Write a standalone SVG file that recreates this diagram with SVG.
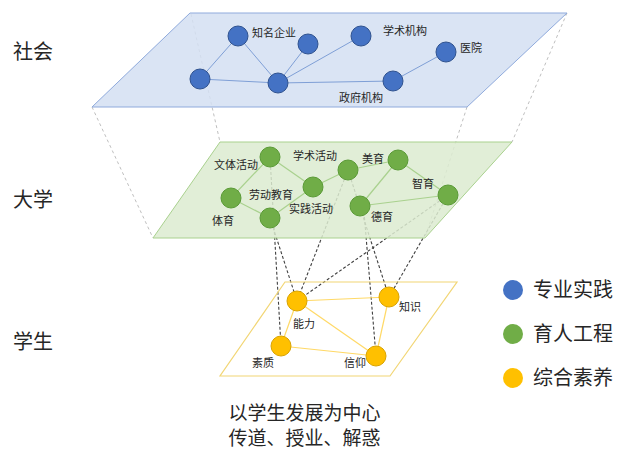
<svg xmlns="http://www.w3.org/2000/svg" width="621" height="450" viewBox="0 0 621 450">
<style>
text{font-family:"Noto Sans CJK SC","Noto Sans",sans-serif;fill:#262626}
.lbl{font-size:11px}
.big{font-size:20px}
.cap{font-size:19px}
.guide{stroke:#BFBFBF;stroke-width:1;stroke-dasharray:3,3;fill:none}
.link{stroke:#404040;stroke-width:1.1;stroke-dasharray:3,2;fill:none}
.eb{stroke:#7F9FD6;stroke-width:1}
.eg{stroke:#A9D18E;stroke-width:1.2}
.ey{stroke:#FFD966;stroke-width:1.2}
.nb{fill:#4472C4;stroke:#2F528F;stroke-width:1}
.ng{fill:#70AD47;stroke:#5A9A36;stroke-width:1}
.ny{fill:#FFC000;stroke:#D9A300;stroke-width:1}
</style>
<rect width="621" height="450" fill="#FFFFFF"/>
<g id="connectors">
<g id="plane-guides">
<line class="guide" x1="92" y1="107" x2="153" y2="238"/>
<line class="guide" x1="191" y1="14" x2="220" y2="142"/>
<line class="guide" x1="567" y1="13" x2="512" y2="142"/>
<line class="guide" x1="467" y1="107" x2="425" y2="238"/>
</g>
<g id="level-links">
<line class="link" x1="270" y1="157" x2="281" y2="346"/>
<line class="link" x1="270" y1="218" x2="297" y2="301"/>
<line class="link" x1="348" y1="170" x2="297" y2="301"/>
<line class="link" x1="448" y1="195" x2="297" y2="301"/>
<line class="link" x1="448" y1="195" x2="389" y2="297"/>
<line class="link" x1="348" y1="170" x2="389" y2="297"/>
<line class="link" x1="364" y1="212" x2="376" y2="356"/>
</g>
</g>
<g id="plane-society">
<polygon points="190,13 567,13 467,107 92,107" fill="#D3DFF2" fill-opacity="0.85" stroke="#8FAADC" stroke-width="1"/>
</g>
<g id="plane-university">
<polygon points="220,142 512,142 425,238 153,238" fill="#DCEBD0" fill-opacity="0.85" stroke="#A9D18E" stroke-width="1"/>
</g>
<g id="plane-student">
<polygon points="285,282 457,282 390,376 220,376" fill="none" stroke="#F2D675" stroke-width="1.2"/>
</g>
<g id="edges">
<line class="eb" x1="200" y1="79" x2="238" y2="36"/>
<line class="eb" x1="200" y1="79" x2="278" y2="83"/>
<line class="eb" x1="238" y1="36" x2="278" y2="83"/>
<line class="eb" x1="278" y1="83" x2="308" y2="44"/>
<line class="eb" x1="278" y1="83" x2="361" y2="36"/>
<line class="eb" x1="278" y1="83" x2="393" y2="81"/>
<line class="eb" x1="393" y1="81" x2="446" y2="52"/>
<line class="eg" x1="270" y1="157" x2="231" y2="198"/>
<line class="eg" x1="270" y1="157" x2="313" y2="187"/>
<line class="eg" x1="231" y1="198" x2="270" y2="218"/>
<line class="eg" x1="270" y1="218" x2="313" y2="187"/>
<line class="eg" x1="313" y1="187" x2="348" y2="170"/>
<line class="eg" x1="348" y1="170" x2="398" y2="160"/>
<line class="eg" x1="398" y1="160" x2="360" y2="206"/>
<line class="eg" x1="398" y1="160" x2="448" y2="195"/>
<line class="eg" x1="360" y1="206" x2="448" y2="195"/>
<line class="ey" x1="297" y1="301" x2="389" y2="297"/>
<line class="ey" x1="297" y1="301" x2="281" y2="346"/>
<line class="ey" x1="297" y1="301" x2="376" y2="356"/>
<line class="ey" x1="281" y1="346" x2="376" y2="356"/>
<line class="ey" x1="389" y1="297" x2="376" y2="356"/>
</g>
<g id="node-s1"><circle class="nb" cx="200" cy="79" r="10"/></g>
<g id="node-s2"><circle class="nb" cx="238" cy="36" r="10"/><text class="lbl" x="252" y="37">知名企业</text></g>
<g id="node-s3"><circle class="nb" cx="308" cy="44" r="10"/></g>
<g id="node-s4"><circle class="nb" cx="361" cy="36" r="10"/><text class="lbl" x="383" y="35">学术机构</text></g>
<g id="node-s5"><circle class="nb" cx="278" cy="83" r="10"/></g>
<g id="node-s6"><circle class="nb" cx="393" cy="81" r="10"/><text class="lbl" x="339" y="102">政府机构</text></g>
<g id="node-s7"><circle class="nb" cx="446" cy="52" r="10"/><text class="lbl" x="460" y="52">医院</text></g>
<g id="node-u1"><circle class="ng" cx="270" cy="157" r="10"/><text class="lbl" x="214" y="169">文体活动</text></g>
<g id="node-u2"><circle class="ng" cx="231" cy="198" r="10"/><text class="lbl" x="212" y="225">体育</text></g>
<g id="node-u3"><circle class="ng" cx="270" cy="218" r="10"/><text class="lbl" x="249" y="199">劳动教育</text></g>
<g id="node-u4"><circle class="ng" cx="313" cy="187" r="10"/><text class="lbl" x="293" y="160">学术活动</text><text class="lbl" x="289" y="213">实践活动</text></g>
<g id="node-u5"><circle class="ng" cx="348" cy="170" r="10"/><text class="lbl" x="362" y="163">美育</text></g>
<g id="node-u6"><circle class="ng" cx="398" cy="160" r="10"/><text class="lbl" x="412" y="188">智育</text></g>
<g id="node-u7"><circle class="ng" cx="360" cy="206" r="10"/><text class="lbl" x="371" y="221">德育</text></g>
<g id="node-u8"><circle class="ng" cx="448" cy="195" r="10"/></g>
<g id="node-p1"><circle class="ny" cx="297" cy="301" r="10"/><text class="lbl" x="293" y="328">能力</text></g>
<g id="node-p2"><circle class="ny" cx="389" cy="297" r="10"/><text class="lbl" x="399" y="311">知识</text></g>
<g id="node-p3"><circle class="ny" cx="281" cy="346" r="10"/><text class="lbl" x="252" y="367">素质</text></g>
<g id="node-p4"><circle class="ny" cx="376" cy="356" r="10"/><text class="lbl" x="344" y="367">信仰</text></g>
<g id="layer-labels">
<text class="big" x="13" y="59">社会</text>
<text class="big" x="13" y="207">大学</text>
<text class="big" x="13" y="349">学生</text>
</g>
<g id="legend">
<circle cx="513" cy="290" r="10" fill="#4472C4"/>
<text class="big" x="533" y="297">专业实践</text>
<circle cx="513" cy="334" r="10" fill="#70AD47"/>
<text class="big" x="533" y="341">育人工程</text>
<circle cx="513" cy="378" r="10" fill="#FFC000"/>
<text class="big" x="533" y="385">综合素养</text>
</g>
<g id="caption">
<text class="cap" x="304.5" y="420" text-anchor="middle">以学生发展为中心</text>
<text class="cap" x="304.5" y="445" text-anchor="middle">传道、授业、解惑</text>
</g>
</svg>
